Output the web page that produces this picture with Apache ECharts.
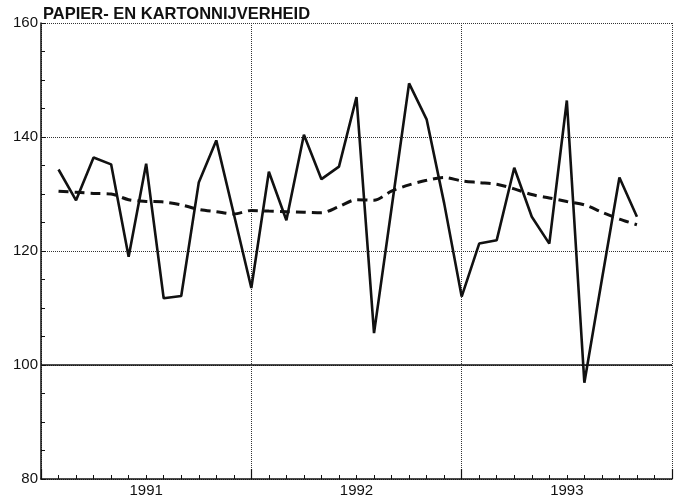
<!DOCTYPE html>
<html>
<head>
<meta charset="utf-8">
<script src="https://cdn.jsdelivr.net/npm/echarts@6/dist/echarts.min.js"></script>
<style>
html,body{margin:0;padding:0;background:#fff;}
#chart{width:679px;height:503px;}
</style>
</head>
<body>
<div id="chart"></div>
<script>
// month index (1 = first month of 1991)
const months = [1,2,3,4,5,6,7,8,9,10,11,12,13,14,15,16,17,18,19,20,21,22,23,24,25,26,27,28,29,30,31,32,33,34];
const actual = [134.3,128.9,136.4,135.2,119.0,135.3,111.7,112.1,132.0,139.4,126.5,113.5,
                133.9,125.4,140.4,132.6,134.8,147.0,105.6,127.5,149.4,143.1,128.4,112.0,
                121.3,121.9,134.6,126.0,121.3,146.4,96.9,115.0,132.9,126.0];
const trend = [130.5,130.3,130.1,130.0,129.0,128.7,128.6,128.1,127.3,126.9,126.5,127.1,
               127.0,126.9,126.8,126.7,127.8,129.0,128.9,130.5,131.6,132.4,132.9,132.3,
               132.0,131.7,130.9,129.9,129.3,128.7,128.1,126.8,125.6,124.6];
const yearLabels = {6:'1991', 18:'1992', 30:'1993'};
const title = 'PAPIER- EN KARTONNIJVERHEID';

const font = 'Liberation Sans, Arial, Helvetica, sans-serif';
const chart = echarts.init(document.getElementById('chart'), null, {renderer:'canvas'});
chart.setOption({
  backgroundColor:'#fff',
  animation:false,
  graphic:[{
    type:'text', left:43, top:6,
    style:{text:title, fontSize:16.5, fontWeight:'bold', fontFamily:font, fill:'#111'}
  }],
  grid:{left:41, right:7, top:23, bottom:24, containLabel:false},
  xAxis:[{
    type:'value', min:0, max:36, interval:1,
    axisLine:{show:true, onZero:false, lineStyle:{color:'#111', width:1.5}},
    axisTick:{show:true, inside:true, length:4, lineStyle:{color:'#111', width:1}},
    axisLabel:{show:true, margin:4, fontSize:15, fontFamily:font, color:'#111',
      formatter:v => yearLabels[v] || ''},
    splitLine:{show:false}
  },{
    type:'value', min:0, max:36, interval:12, position:'bottom',
    axisLine:{show:false},
    axisTick:{show:true, inside:true, length:10, lineStyle:{color:'#111', width:1.2}},
    axisLabel:{show:false},
    splitLine:{show:true, lineStyle:{color:'#333', width:1, type:'dotted'}}
  }],
  yAxis:{
    type:'value', min:80, max:160, interval:20,
    axisLine:{show:true, lineStyle:{color:'#111', width:1.5}},
    axisTick:{show:true, inside:true, length:5, lineStyle:{color:'#111', width:1}},
    minorTick:{show:true, splitNumber:4, length:4, lineStyle:{color:'#111', width:1}},
    axisLabel:{margin:3, fontSize:15, fontFamily:font, color:'#111'},
    splitLine:{show:true, lineStyle:{color:'#333', width:1, type:'dotted'}}
  },
  series:[{
    type:'line', xAxisIndex:0,
    data: months.map((m,i)=>[m, actual[i]]),
    symbol:'none',
    lineStyle:{color:'#111', width:2.6},
    markLine:{
      silent:true, symbol:'none', label:{show:false},
      lineStyle:{color:'#111', width:1.5, type:'solid'},
      data:[{yAxis:100}]
    },
    z:3
  },{
    type:'line', xAxisIndex:0,
    data: months.map((m,i)=>[m, trend[i]]),
    symbol:'none', smooth:0.3,
    lineStyle:{color:'#111', width:3, type:[10,6]},
    z:2
  }]
});
</script>
</body>
</html>
